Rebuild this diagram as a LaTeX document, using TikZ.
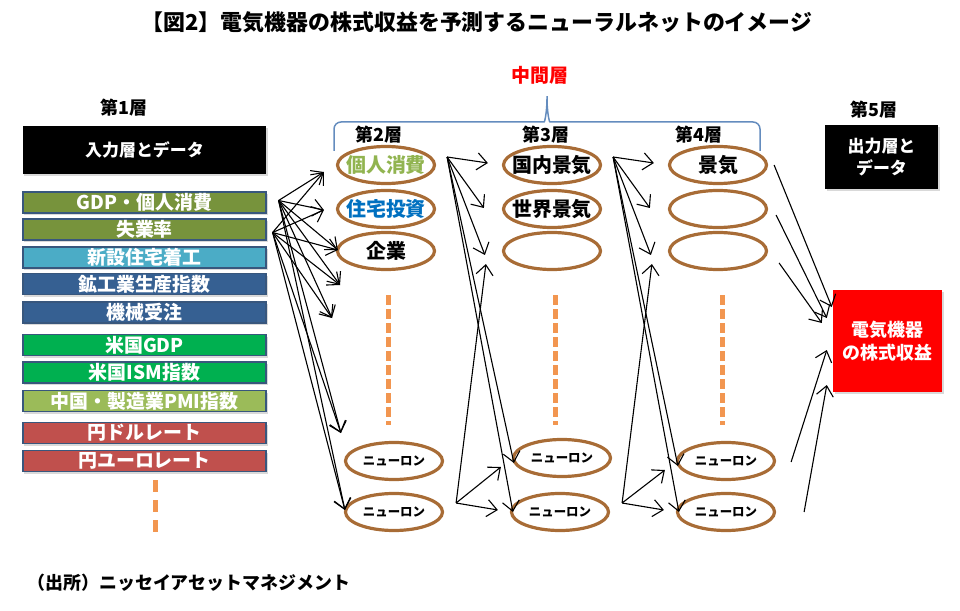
\documentclass[tikz,border=0pt]{standalone}
\usepackage{fontspec}
\setmainfont{Noto Sans CJK JP}
\usepackage{tikz}
\usetikzlibrary{arrows.meta,shapes.geometric,shadows}

\definecolor{olivein}{RGB}{119,147,60}
\definecolor{cyanin}{RGB}{75,172,198}
\definecolor{bluein}{RGB}{54,96,146}
\definecolor{greenin}{RGB}{0,176,80}
\definecolor{limein}{RGB}{155,187,89}
\definecolor{redin}{RGB}{192,80,77}
\definecolor{boxline}{RGB}{56,87,125}
\definecolor{ringbrown}{RGB}{168,108,54}
\definecolor{dotorange}{RGB}{242,150,80}
\definecolor{bracecol}{RGB}{100,140,190}
\definecolor{textolive}{RGB}{145,180,80}
\definecolor{textblue}{RGB}{0,112,192}

\newcommand{\bsz}[2]{\fontsize{#1}{#2}\selectfont\bfseries}
\newcommand{\ringtxt}[1]{\makebox[0pt]{#1}}

\begin{document}
\begin{tikzpicture}[x=1bp, y=-1bp,
	inbox/.style={draw=boxline, line width=1.2bp, text=white, minimum width=243bp, minimum height=21bp, inner sep=0pt, font=\bsz{19}{19}, drop shadow={shadow xshift=1.5bp, shadow yshift=-2bp, opacity=0.3}},
	blackbox/.style={fill=black, text=white, inner sep=0pt, align=center, font=\bsz{17}{23}, drop shadow={shadow xshift=1.5bp, shadow yshift=-2bp, opacity=0.3}},
	layerlbl/.style={font=\bsz{18}{18}},
	ring/.style={ellipse, draw=ringbrown, line width=3.2bp, minimum width=97bp, minimum height=37bp, inner sep=0pt, font=\bsz{20}{20}},
	neuron/.style={ring, font=\bsz{12.5}{12.5}},
	arr/.style={-{Straight Barb[length=10bp, width=17bp]}, line width=1.1bp},
	vdots/.style={draw=dotorange, line width=5bp, dash pattern=on 10bp off 4bp}]

	\useasboundingbox (0,0) rectangle (960,611);

	\node[font=\bsz{22}{22}] (title) at (477,22) {【図2】電気機器の株式収益を予測するニューラルネットのイメージ};

	% input layer
	\node[layerlbl] (l1) at (124,108) {第1層};
	\node[blackbox, minimum width=243bp, minimum height=48bp] (inlbl) at (144.5,150) {入力層とデータ};
	\foreach \yy/\cc/\lbl [count=\i] in {202.5/olivein/GDP・個人消費, 229.5/olivein/失業率, 257.5/cyanin/新設住宅着工, 284/bluein/鉱工業生産指数, 312.5/bluein/機械受注, 345/greenin/米国GDP, 372.5/greenin/米国ISM指数, 401/limein/中国・製造業PMI指数, 433/redin/円ドルレート, 461/redin/円ユーロレート}
		\node[inbox, fill=\cc] (in\i) at (144.5,\yy) {\lbl};
	\draw[vdots, dash pattern=on 12bp off 8bp] (155,480) -- (155,532);

	% middle layers
	\node[font=\bsz{19}{19}, text=red] (mid) at (540,75) {中間層};
	\draw[bracecol, line width=1.5bp, rounded corners=7bp] (334,151) |- (537,122) .. controls (545,122) and (547,110) .. (547,92) .. controls (547,110) and (549,122) .. (557,122) -| (760,151);
	\node[layerlbl] (l2) at (379,135) {第2層};
	\node[layerlbl] (l3) at (546,135) {第3層};
	\node[layerlbl] (l4) at (699,135) {第4層};

	\node[ring, text=textolive] (h2-a) at (386,165) {\ringtxt{個人消費}};
	\node[ring, text=textblue] (h2-b) at (386,209) {\ringtxt{住宅投資}};
	\node[ring] (h2-c) at (386,251) {\ringtxt{企業}};
	\node[neuron] (h2-y) at (394,461) {\ringtxt{ニューロン}};
	\node[neuron] (h2-z) at (394,512) {\ringtxt{ニューロン}};

	\node[ring] (h3-a) at (552,165) {\ringtxt{国内景気}};
	\node[ring] (h3-b) at (552,209) {\ringtxt{世界景気}};
	\node[ring] (h3-c) at (552,251) {};
	\node[neuron] (h3-y) at (562,458) {\ringtxt{ニューロン}};
	\node[neuron] (h3-z) at (560,512) {\ringtxt{ニューロン}};

	\node[ring] (h4-a) at (718,165) {\ringtxt{景気}};
	\node[ring] (h4-b) at (718,209) {};
	\node[ring] (h4-c) at (718,251) {};
	\node[neuron] (h4-y) at (726,461) {\ringtxt{ニューロン}};
	\node[neuron] (h4-z) at (726,512) {\ringtxt{ニューロン}};

	\foreach \x in {388,555,722}
		\draw[vdots] (\x,295) -- (\x,425);

	% output layer
	\node[layerlbl] (l5) at (874,110) {第5層};
	\node[blackbox, minimum width=113bp, minimum height=64bp] (outlbl) at (881.5,157) {出力層と\\データ};
	\node[fill=red, text=white, inner sep=0pt, align=center, font=\bsz{18}{23}, minimum width=109bp, minimum height=102bp, drop shadow={shadow xshift=1.5bp, shadow yshift=-2bp, opacity=0.3}] (out) at (887.5,341) {電気機器\\の株式収益};

	% layer 1 -> layer 2
	\coordinate (src1) at ([shift={(12,-2)}]in1.east);
	\coordinate (src2) at ([shift={(6,3)}]in2.east);
	\coordinate (end1) at ([shift={(-12,7)}]h2-a.west);
	\coordinate (end2) at ([shift={(-12,1)}]h2-b.west);
	\coordinate (end3) at ([shift={(2,-1)}]h2-c.west);
	\coordinate (gap1) at ([shift={(-46,34)}]h2-c.center);
	\coordinate (gap2) at ([shift={(-54,67)}]h2-c.center);
	\coordinate (end4) at ([shift={(-3,-28)}]h2-y.west);
	\coordinate (end5) at ([shift={(1,-2)}]h2-z.west);
	\foreach \s in {src1,src2}
		\foreach \t in {end1,end2,end3,gap1,gap2,end4,end5}
			\draw[arr] (\s) -- (\t);

	% layer 2 -> 3 -> 4
	\foreach \a/\b in {2/3,3/4} {
		\coordinate (top\a) at ([shift={(11,-8)}]h\a-a.east);
		\coordinate (bot\a) at ([shift={(12,-9)}]h\a-z.east);
		\foreach \t/\dx/\dy in {a/-14/-2, b/-18/-1, c/-17/4, y/2/5, z/3/0}
			\draw[arr] (top\a) -- ([shift={(\dx,\dy)}]h\b-\t.west);
		\foreach \t/\dx/\dy in {c/-16/13, y/-11/9, z/-12/-2}
			\draw[arr] (bot\a) -- ([shift={(\dx,\dy)}]h\b-\t.west);
	}

	% layer 4 -> output
	\foreach \s/\sx/\sy/\ex/\ey in {h4-a/6/0/-1/-34, h4-b/8/6/-6/-23, h4-c/11/12/-11/-18, h4-y/15/1/-6/9, h4-z/28/0/-6/44}
		\draw[arr] ([shift={(\sx,\sy)}]\s.east) -- ([shift={(\ex,\ey)}]out.west);

	\node[anchor=west, font=\bsz{18}{18}] (src) at (24,583) {（出所）ニッセイアセットマネジメント};
\end{tikzpicture}
\end{document}
